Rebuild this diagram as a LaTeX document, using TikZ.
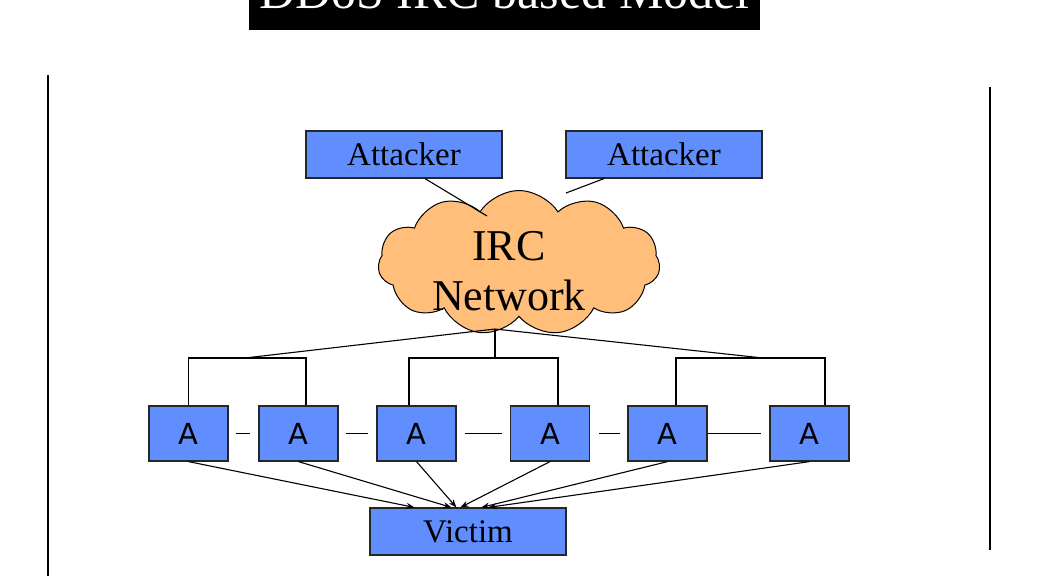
\documentclass[tikz,border=0pt]{standalone}
\usepackage{fontspec}
\setmainfont{Liberation Serif}
\newfontfamily\asans{DejaVu Sans}
\usetikzlibrary{shapes.symbols,arrows.meta}
\definecolor{boxblue}{RGB}{97,142,255}
\definecolor{cloudorange}{RGB}{255,190,122}
\begin{document}
\begin{tikzpicture}[x=1pt,y=-1pt,
  bluebox/.style={draw=black!85, fill=boxblue, line width=1.2pt, inner sep=0pt},
  attbox/.style={bluebox, minimum width=196pt, minimum height=47pt, font=\fontsize{33}{33}\selectfont},
  abox/.style={bluebox, minimum width=79pt, minimum height=55pt, font=\asans\fontsize{29}{29}\selectfont},
  link/.style={draw=black, line width=1.1pt},
  hit/.style={link, -{Stealth[length=8pt,width=6pt]}},
  frameline/.style={draw=black, line width=1.1pt}
]
\useasboundingbox (0,0) rectangle (1038,576);

% title
\fill[black] (249,-5) rectangle (760,30);
\node[anchor=base, text=white, inner sep=0pt, font=\fontsize{50}{50}\selectfont] (title) at (504.5,8) {DDoS IRC based Model};

% frame lines
\draw[frameline] (48,75) -- (48,576);
\draw[frameline] (990,87) -- (990,550);

% attackers
\node[attbox] (att1) at (404,154.5) {Attacker};
\node[attbox] (att2) at (664,154.5) {Attacker};

% cloud
\node[cloud, cloud puffs=11, cloud puff arc=115, aspect=1.9, draw=black, fill=cloudorange,
      line width=1pt, minimum width=282pt, minimum height=145pt, inner sep=0pt] (irc) at (519,263) {};
\node[align=center, inner sep=0pt, font=\fontsize{44}{50}\selectfont] (irctext) at (509,271) {IRC\\Network};

\coordinate (c1) at (487,216);
\coordinate (c2) at (566,193);
\coordinate (hub) at (495,329);
\coordinate (bl) at (245,358);
\coordinate (bc) at (495,358);
\coordinate (br) at (763,358);

\draw[link] ([xshift=21pt]att1.south) -- (c1);
\draw[link] ([xshift=-60pt]att2.south) -- (c2);

% agents
\node[abox] (a1) at (188.5,433.5) {A};
\node[abox] (a2) at (298.5,433.5) {A};
\node[abox] (a3) at (416.5,433.5) {A};
\node[abox] (a4) at (550,433.5) {A};
\node[abox] (a5) at (667.5,433.5) {A};
\node[abox] (a6) at (809.5,433.5) {A};

% tree
\draw[link] (hub) -- (bl);
\draw[link] (hub) -- (bc);
\draw[link] (hub) -- (br);
\draw[link] (a1.north) |- ([xshift=7.5pt]a2.north |- bl) -- ([xshift=7.5pt]a2.north);
\draw[link] ([xshift=-7.5pt]a3.north) |- ([xshift=8pt]a4.north |- bc) -- ([xshift=8pt]a4.north);
\draw[link] ([xshift=8.5pt]a5.north) |- ([xshift=15.5pt]a6.north |- br) -- ([xshift=15.5pt]a6.north);

% dashes between agents
\draw[link, shorten <=7pt, shorten >=8pt] (a1.east) -- (a2.west);
\draw[link, shorten <=7pt, shorten >=8pt] (a2.east) -- (a3.west);
\draw[link, shorten <=8pt, shorten >=8pt] (a3.east) -- (a4.west);
\draw[link, shorten <=9pt, shorten >=7pt] (a4.east) -- (a5.west);
\draw[link, shorten >=8pt] (a5.east) -- (a6.west);

% victim
\node[attbox] (victim) at (468,531.5) {Victim};

\draw[hit] (a1.south) -- ([xshift=45pt]victim.north west);
\draw[hit] (a2.south) -- ([xshift=82pt]victim.north west);
\draw[hit] (a3.south) -- ([xshift=87pt]victim.north west);
\draw[hit] (a4.south) -- ([xshift=91pt]victim.north west);
\draw[hit] (a5.south) -- ([xshift=112pt]victim.north west);
\draw[hit] (a6.south) -- ([xshift=119pt]victim.north west);
\end{tikzpicture}
\end{document}
